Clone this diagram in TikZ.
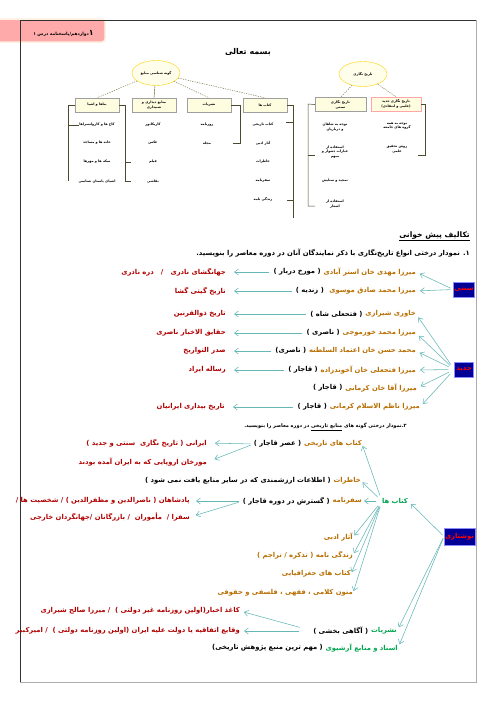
\documentclass[tikz,border=0pt]{standalone}
\usepackage{fontspec}
\usepackage{tikz}
\usetikzlibrary{arrows.meta, shapes.geometric, positioning, calc}
\usepackage{xcolor}
\TeXXeTstate=1
\newfontfamily\fa[Script=Arabic]{DejaVu Sans}
\newcommand{\ptext}[1]{\beginR #1\endR}
\definecolor{qajarbrown}{RGB}{184,110,0}
\definecolor{darkred}{RGB}{176,0,0}
\definecolor{srcgreen}{RGB}{0,166,80}
\definecolor{arrowteal}{RGB}{102,184,184}
\definecolor{boxnavy}{RGB}{0,0,150}
\definecolor{tabpink}{RGB}{255,170,170}

\begin{document}
\begin{tikzpicture}[x=1pt, y=-1pt, node distance=2.5pt,
  fa/.style={font=\fa\bfseries\fontsize{6.8}{8}\selectfont},
  rowtxt/.style={fa, inner sep=0pt, anchor=east},
  browntxt/.style={rowtxt, text=qajarbrown},
  greentxt/.style={rowtxt, text=srcgreen},
  redtxt/.style={rowtxt, text=darkred},
  catbox/.style={fa, fill=boxnavy, draw=blue!45, text=red, inner sep=0.8pt, minimum height=15, minimum width=19},
  arr/.style={draw=arrowteal, line width=0.55pt, -{Straight Barb[length=4pt, width=6pt]}},
  tinytxt/.style={font=\fa\bfseries\fontsize{3.4}{4.4}\selectfont, inner sep=0.5pt, align=center},
  srcbox/.style={tinytxt, draw=gray!75, fill=yellow!12, minimum width=44, minimum height=14},
  rootell/.style={tinytxt, ellipse, draw=yellow!70!orange, fill=yellow!8, minimum width=48, minimum height=25},
  treeline/.style={draw=olive!60!black, dash pattern=on 1.2pt off 1.2pt, line width=0.4pt},
  brk/.style={draw=olive!40!black, line width=0.5pt},
]
\useasboundingbox (0,0) rectangle (496,702);
\fill[white] (0,0) rectangle (496,702);

% tab and frame
\node[draw=orange!12, fill=tabpink, line width=1.5pt, rounded corners=3pt, minimum width=111, minimum height=23] (tab) at (49.5,30.5) {};
\node[fa, inner sep=0pt, anchor=east, font=\fa\bfseries\fontsize{4.4}{5}\selectfont] (tablbl) at (94,33) {\ptext{{\fontsize{8}{8}\selectfont ۱}دوازدهم/پاسخنامه درس ۱}};
\draw[gray!40!black, line width=0.5pt] (20,682) -- (20,20) -- (476,20);
\draw[gray!65, line width=1.6pt] (476.5,20) -- (476.5,682.5) -- (20,682.5);

\node[fa, font=\fa\bfseries\fontsize{8}{9}\selectfont] (title) at (248,52) {\ptext{بسمه تعالی}};

% source tree (small picture)
\node[rootell] (srcroot) at (156,73) {\ptext{گونه شناسی منابع}};
\node[srcbox] (b1) at (97,105) {\ptext{بناها و اشیا}};
\node[srcbox] (b2) at (154,105) {\ptext{منابع دیداری و}\\\ptext{شنیداری}};
\node[srcbox] (b3) at (209,105) {\ptext{نشریات}};
\node[srcbox] (b4) at (265,105) {\ptext{کتاب ها}};
\draw[treeline] (srcroot) -- (b1.north);
\draw[olive!60!black, line width=0.4pt] (srcroot) -- (b2.north);
\draw[treeline] (srcroot) -- (b3.north);
\draw[treeline] (srcroot) -- (b4.north);

\node[tinytxt] (i11) at (97,125) {\ptext{کاخ ها و کاروانسراها}};
\node[tinytxt] (i12) at (97,143) {\ptext{خانه ها و مساجد}};
\node[tinytxt] (i13) at (97,162) {\ptext{سکه ها و مهرها}};
\node[tinytxt] (i14) at (97,181) {\ptext{اشیای باستان شناسی}};
\node[tinytxt] (i21) at (153,125) {\ptext{کاریکاتور}};
\node[tinytxt] (i22) at (153,143) {\ptext{عکس}};
\node[tinytxt] (i23) at (153,162) {\ptext{فیلم}};
\node[tinytxt] (i24) at (153,181) {\ptext{نقاشی}};
\node[tinytxt] (i31) at (207,125) {\ptext{روزنامه}};
\node[tinytxt] (i32) at (207,143) {\ptext{مجله}};
\node[tinytxt] (i41) at (263,125) {\ptext{کتاب تاریخی}};
\node[tinytxt] (i42) at (263,143) {\ptext{آثار ادبی}};
\node[tinytxt] (i43) at (263,162) {\ptext{خاطرات}};
\node[tinytxt] (i44) at (263,181) {\ptext{سفرنامه}};
\node[tinytxt] (i45) at (263,199) {\ptext{زندگی نامه}};

\draw[brk] (b1.west) -- (68,105) -- (68,181);
\draw[brk] (68,125) -- (i11.west);
\draw[brk] (b1.east) -- (125,105) -- (125,181) -- (131,181);
\draw[brk] (125,162) -- (131,162);
\draw[brk] (b3.east) -- (240,105) -- (240,143) -- (233,143);
\draw[brk] (b4.east) -- (293,105) -- (293,218);
\draw[brk] (293,122) -- (286,122);
\draw[brk] (293,200) -- (287,200);

% historiography tree (small picture)
\node[rootell] (histroot) at (363,74) {\ptext{تاریخ نگاری}};
\node[srcbox, minimum width=51] (b5) at (340.5,104.5) {\ptext{تاریخ نگاری}\\\ptext{سنتی}};
\node[srcbox, minimum width=50, draw=red!35] (b6) at (396,104) {\ptext{تاریخ نگاری جدید}\\\ptext{(علمی و انتقادی)}};
\draw[treeline] (histroot) -- (b5.north);
\draw[treeline] (histroot) -- (b6.north);

\node[tinytxt] (i51) at (335,127) {\ptext{توجه به شاهان}\\\ptext{و درباریان}};
\node[tinytxt] (i52) at (335,152) {\ptext{استفاده از}\\\ptext{عبارات دشوار و}\\\ptext{مبهم}};
\node[tinytxt] (i53) at (335,181) {\ptext{تمجید و ستایش}};
\node[tinytxt] (i54) at (335,204) {\ptext{استفاده از}\\\ptext{اشعار}};
\node[tinytxt] (i61) at (397,126) {\ptext{توجه به همه}\\\ptext{گروه های جامعه}};
\node[tinytxt] (i62) at (397,149) {\ptext{روش تحقیق}\\\ptext{علمی}};

\draw[brk] (b5.west) -- (308,104) -- (308,206) -- (315,206);
\draw[brk] (308,155) -- (315,155);
\draw[brk] (b6.east) -- (425,104) -- (425,155) -- (418,155);

% question 1
\node[rowtxt, font=\fa\bfseries\fontsize{7.6}{9}\selectfont] (hw) at (470,236) {\ptext{تکالیف پیش خوانی}};
\draw[line width=0.5pt] (hw.south west) -- (hw.south east);
\node[rowtxt] (q1) at (470,253) {\ptext{۱. نمودار درختی انواع تاریخ‌نگاری با ذکر نمایندگان آنان در دوره معاصر را بنویسید.}};

\node[catbox] (sonati) at (464,289.5) {\ptext{سنتی}};
\node[catbox] (jadid) at (464,369.5) {\ptext{جدید}};

\node[browntxt] (m1n) at (416,272) {\ptext{میرزا مهدی خان استر آبادی}};
\node[browntxt] (m2n) at (416,291) {\ptext{میرزا محمد صادق موسوی}};
\node[browntxt] (m3n) at (416,314) {\ptext{خاوری شیرازی}};
\node[browntxt] (m4n) at (416,333) {\ptext{میرزا محمد خورموجی}};
\node[browntxt] (m5n) at (416,351) {\ptext{محمد حسن خان اعتماد السلطنه}};
\node[browntxt] (m6n) at (416,370) {\ptext{میرزا فتحعلی خان آخوندزاده}};
\node[browntxt] (m7n) at (417,388) {\ptext{میرزا آقا خان کرمانی}};
\node[browntxt] (m8n) at (420,407) {\ptext{میرزا ناظم الاسلام کرمانی}};

\node[rowtxt, left=of m1n] (m1) {\ptext{( مورخ دربار )}};
\node[rowtxt, left=5pt of m2n] (m2) {\ptext{( زندیه )}};
\node[rowtxt, left=of m3n] (m3) {\ptext{( فتحعلی شاه )}};
\node[rowtxt, left=of m4n] (m4) {\ptext{( ناصری )}};
\node[rowtxt, left=of m5n] (m5) {\ptext{( ناصری)}};
\node[rowtxt, left=of m6n] (m6) {\ptext{( قاجار )}};
\node[rowtxt, left=of m7n] (m7) {\ptext{( قاجار )}};
\node[rowtxt, left=of m8n] (m8) {\ptext{( قاجار )}};

\node[redtxt] (r1) at (226,272) {\ptext{جهانگشای نادری \ \ / \ \ دره نادری}};
\node[redtxt] (r2) at (226,291) {\ptext{تاریخ گیتی گشا}};
\node[redtxt] (r3) at (226,314) {\ptext{تاریخ ذوالقرنین}};
\node[redtxt] (r4) at (226,333) {\ptext{حقایق الاخبار ناصری}};
\node[redtxt] (r5) at (226,351) {\ptext{صدر التواریخ}};
\node[redtxt] (r6) at (226,370) {\ptext{رساله ایراد}};
\node[redtxt] (r8) at (225,407) {\ptext{تاریخ بیداری ایرانیان}};

\foreach \i in {1,2,3,4,5,6,8} {
  \draw[arr, shorten <=4pt, shorten >=8pt] (m\i.west) -- (r\i.east);
}
\foreach \i in {1,2} {
  \draw[arr, shorten <=3pt, shorten >=4pt] (sonati.west) -- (m\i n.east);
}
\foreach \i in {3,...,8} {
  \draw[arr, shorten <=6pt, shorten >=4pt] (jadid.west) -- (m\i n.east);
}

% question 2
\node[rowtxt, font=\fa\bfseries\fontsize{5}{6.5}\selectfont] (q2) at (407,427) {\ptext{۲.نمودار درختی گونه های \underline{\ptext{منابع تاریخی}} در دوره معاصر را بنویسید.}};

\node[catbox, minimum width=27, minimum height=17] (nevesh) at (459.5,536.5) {\ptext{نوشتاری}};
\node[greentxt] (ketab) at (408,501) {\ptext{کتاب ها}};
\node[greentxt] (nashr) at (397,631) {\ptext{نشریات}};
\node[rowtxt, left=of nashr] (nashrn) {\ptext{( آگاهی بخشی )}};
\node[greentxt] (asnad) at (398,648) {\ptext{اسناد و منابع آرشیوی}};
\node[rowtxt, left=of asnad] (asnadn) {\ptext{( مهم ترین منبع پژوهش تاریخی)}};

\node[browntxt] (kt) at (362,444) {\ptext{کتاب های تاریخی}};
\node[rowtxt, left=of kt] (ktn) {\ptext{( عصر قاجار )}};
\node[browntxt] (kh) at (361,481) {\ptext{خاطرات}};
\node[rowtxt, left=of kh] (khn) {\ptext{( اطلاعات ارزشمندی که در سایر منابع یافت نمی شود )}};
\node[browntxt] (sf) at (362,501) {\ptext{سفرنامه}};
\node[rowtxt, left=of sf] (sfn) {\ptext{( گسترش در دوره قاجار )}};
\node[browntxt] (ad) at (353,537) {\ptext{آثار ادبی}};
\node[browntxt] (zn) at (353,555) {\ptext{زندگی نامه ( تذکره / تراجم )}};
\node[browntxt] (jg) at (351,574) {\ptext{کتاب های جغرافیایی}};
\node[browntxt] (mt) at (353,593) {\ptext{متون کلامی ، فقهی ، فلسفی و حقوقی}};

\node[redtxt] (irani) at (207,443) {\ptext{ایرانی ( تاریخ نگاری \ سنتی و جدید )}};
\node[redtxt] (oroupa) at (207,462) {\ptext{مورخان اروپایی که به ایران آمده بودند}};
\node[redtxt] (shah) at (190,501) {\ptext{پادشاهان ( ناصرالدین و مظفرالدین ) / شخصیت ها /}};
\node[redtxt] (sofara) at (190,517) {\ptext{سفرا / \ مأموران \ / بازرگانان /جهانگردان خارجی}};
\node[redtxt] (kaghaz) at (240,611) {\ptext{کاغذ اخبار(اولین روزنامه غیر دولتی ) \ / میرزا صالح شیرازی}};
\node[redtxt] (vaghaye) at (240,631) {\ptext{وقایع اتفاقیه یا دولت علیه ایران (اولین روزنامه دولتی ) \ / امیرکبیر}};

\foreach \src in {ketab, nashr, asnad} {
  \draw[arr, shorten <=2pt, shorten >=4pt] (nevesh.west) -- (\src.east);
}
\foreach \sub in {kt, kh, sf, ad, zn, jg, mt} {
  \draw[arr, shorten <=6pt, shorten >=2pt] (ketab.west) -- (\sub.east);
}
\foreach \sub in {irani, oroupa} {
  \draw[arr, shorten <=3pt, shorten >=8pt] (ktn.west) -- (\sub.east);
}
\foreach \sub in {shah, sofara} {
  \draw[arr, shorten <=4pt, shorten >=6pt] (sfn.west) -- (\sub.east);
}
\foreach \sub in {kaghaz, vaghaye} {
  \draw[arr, shorten <=14pt, shorten >=4pt] (nashrn.west) -- (\sub.east);
}
\end{tikzpicture}
\end{document}
